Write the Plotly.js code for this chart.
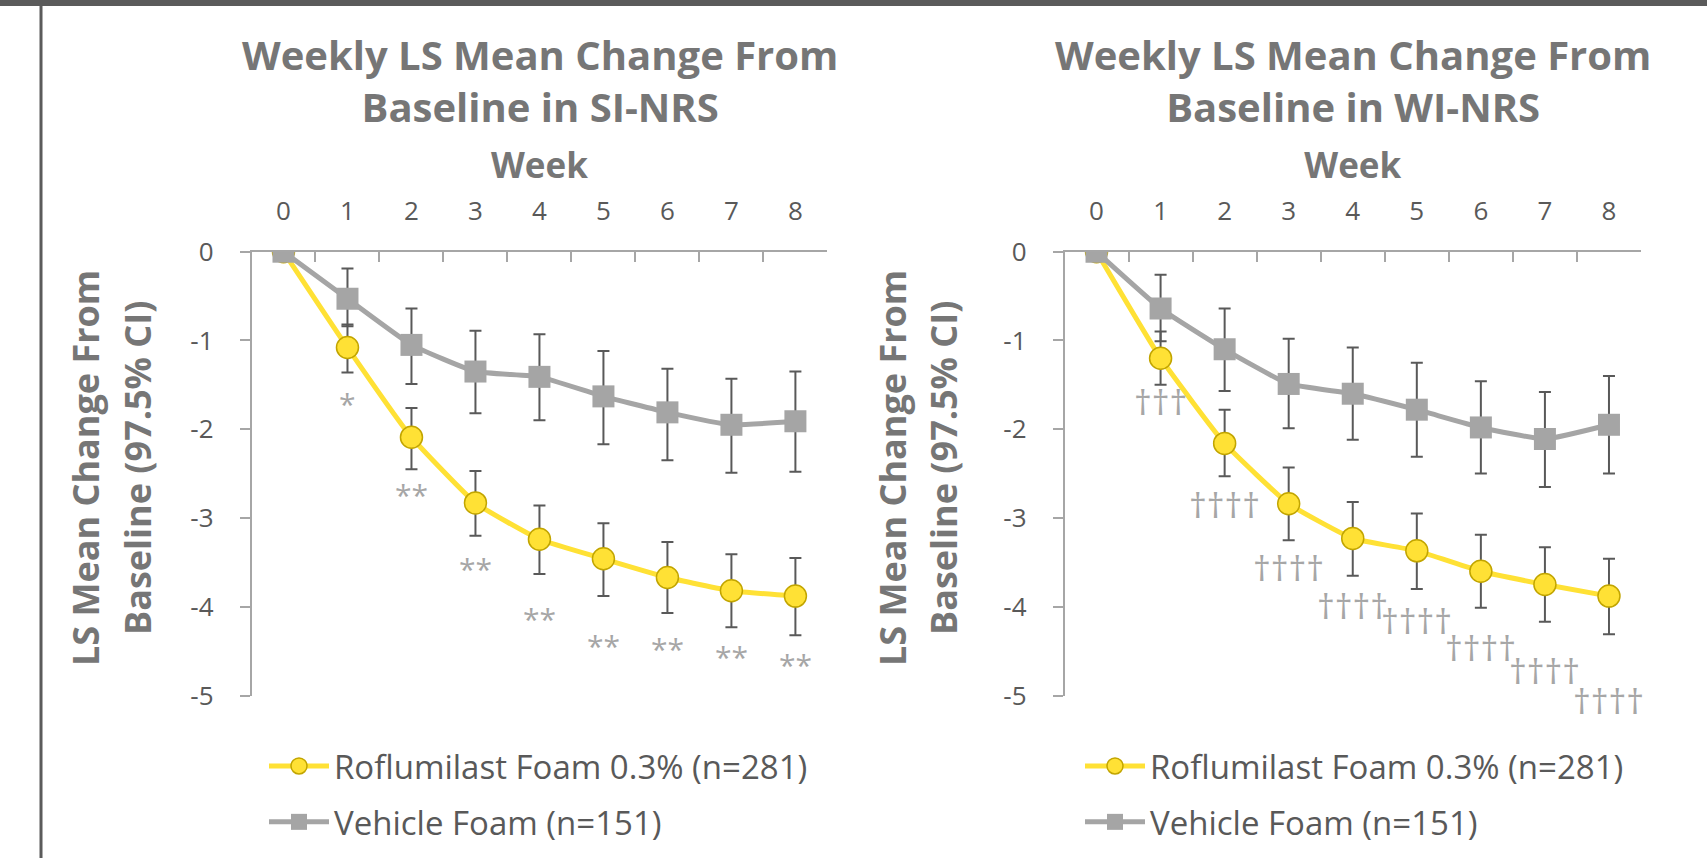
<!DOCTYPE html>
<html>
<head>
<meta charset="utf-8">
<script src="https://cdn.plot.ly/plotly-3.0.1.min.js"></script>
<style>html,body{margin:0;padding:0;background:#fff;}#chart{width:1707px;height:858px;}</style>
</head>
<body>
<div id="chart"></div>
<script>
// ---------- data ----------
const weeks = [0, 1, 2, 3, 4, 5, 6, 7, 8];
const xTickLabels = ['0', '1', '2', '3', '4', '5', '6', '7', '8'];
const yTickVals = [0, -1, -2, -3, -4, -5];
const yTickLabels = ['0', '-1', '-2', '-3', '-4', '-5'];

const seriesNames = ['Roflumilast Foam 0.3% (n=281)', 'Vehicle Foam (n=151)'];
const panelTitles = ['Weekly LS Mean Change From<br>Baseline in SI-NRS', 'Weekly LS Mean Change From<br>Baseline in WI-NRS'];
const xTitle = 'Week';
const yTitleLines = ['LS Mean Change From', 'Baseline (97.5% CI)'];

// SI-NRS
const siRofMean  = [0, -1.08, -2.09, -2.83, -3.24, -3.46, -3.67, -3.82, -3.88];
const siRofUpper = [null, -0.82, -1.76, -2.47, -2.86, -3.06, -3.27, -3.41, -3.45];
const siRofLower = [null, -1.36, -2.45, -3.20, -3.63, -3.88, -4.07, -4.23, -4.32];
const siVehMean  = [0, -0.53, -1.05, -1.35, -1.41, -1.63, -1.81, -1.95, -1.91];
const siVehUpper = [null, -0.19, -0.64, -0.89, -0.93, -1.12, -1.32, -1.43, -1.35];
const siVehLower = [null, -0.84, -1.49, -1.82, -1.90, -2.17, -2.35, -2.49, -2.48];

// WI-NRS
const wiRofMean  = [0, -1.20, -2.16, -2.84, -3.23, -3.37, -3.60, -3.75, -3.88];
const wiRofUpper = [null, -0.90, -1.78, -2.43, -2.82, -2.95, -3.19, -3.33, -3.46];
const wiRofLower = [null, -1.50, -2.53, -3.25, -3.65, -3.80, -4.01, -4.17, -4.31];
const wiVehMean  = [0, -0.64, -1.10, -1.49, -1.60, -1.78, -1.98, -2.11, -1.95];
const wiVehUpper = [null, -0.26, -0.64, -0.98, -1.08, -1.25, -1.46, -1.58, -1.40];
const wiVehLower = [null, -1.01, -1.57, -1.99, -2.12, -2.31, -2.50, -2.65, -2.50];

// significance labels (positions)
const sigWeeks = [1, 2, 3, 4, 5, 6, 7, 8];
const siSigText = ['*', '**', '**', '**', '**', '**', '**', '**'];
const siSigY = [-1.71, -2.74, -3.57, -4.13, -4.44, -4.47, -4.56, -4.65];
const wiSigText = ['\u2020\u2020\u2020', '\u2020\u2020\u2020\u2020', '\u2020\u2020\u2020\u2020', '\u2020\u2020\u2020\u2020', '\u2020\u2020\u2020\u2020', '\u2020\u2020\u2020\u2020', '\u2020\u2020\u2020\u2020', '\u2020\u2020\u2020\u2020'];
const wiSigY = [-1.69, -2.85, -3.56, -3.99, -4.16, -4.46, -4.72, -5.06];

// ---------- styles ----------
const FONT = '"Open Sans", "Liberation Sans", sans-serif';
const YELLOW = '#FFE135';
const YELLOW_EDGE = '#C2A500';
const GREY = '#A5A5A5';
const ERR = '#595959';
const AXIS = '#A6A6A6';
const TITLE_C = '#767676';
const TEXT_C = '#595959';
const SIG_C = '#A6A6A6';

const W = 1707, H = 858;
const Y_TOP_PX = 251.7, Y_BOT_PX = 695.5;
const yDom = [1 - Y_BOT_PX / H, 1 - Y_TOP_PX / H];
const Y_MIN = -5, Y_MAX = 0;
const pxPerUnit = (Y_BOT_PX - Y_TOP_PX) / (Y_MAX - Y_MIN);

function errs(mean, upper, lower) {
  const plus = mean.map((m, i) => upper[i] == null ? null : upper[i] - m);
  const minus = mean.map((m, i) => lower[i] == null ? null : m - lower[i]);
  return {type: 'data', symmetric: false, array: plus, arrayminus: minus,
          color: ERR, thickness: 2, width: 6};
}

function rofTrace(mean, up, lo, xa, ya, leg, grp) {
  return {
    x: weeks, y: mean, type: 'scatter', mode: 'lines+markers',
    name: seriesNames[0], xaxis: xa, yaxis: ya, legend: leg, legendgroup: grp,
    line: {color: YELLOW, width: 5, shape: 'spline', smoothing: 0.4},
    marker: {symbol: 'circle', size: 22, color: YELLOW, line: {color: YELLOW_EDGE, width: 1.5}},
    error_y: errs(mean, up, lo), hoverinfo: 'x+y'
  };
}
function vehTrace(mean, up, lo, xa, ya, leg, grp) {
  return {
    x: weeks, y: mean, type: 'scatter', mode: 'lines+markers',
    name: seriesNames[1], xaxis: xa, yaxis: ya, legend: leg, legendgroup: grp,
    line: {color: GREY, width: 5, shape: 'spline', smoothing: 0.4},
    marker: {symbol: 'square', size: 22, color: GREY, line: {color: GREY, width: 0}},
    error_y: errs(mean, up, lo), hoverinfo: 'x+y'
  };
}

const data = [
  rofTrace(siRofMean, siRofUpper, siRofLower, 'x', 'y', 'legend', 'a1'),
  vehTrace(siVehMean, siVehUpper, siVehLower, 'x', 'y', 'legend', 'a2'),
  rofTrace(wiRofMean, wiRofUpper, wiRofLower, 'x2', 'y2', 'legend2', 'b1'),
  vehTrace(wiVehMean, wiVehUpper, wiVehLower, 'x2', 'y2', 'legend2', 'b2')
];

function xAxis(domain, anchor) {
  return {
    domain: domain, anchor: anchor, type: 'category', side: 'top',
    range: [-0.5, 8.5], fixedrange: true,
    tickmode: 'array', tickvals: weeks, ticktext: xTickLabels,
    tickson: 'boundaries', ticks: 'inside', ticklen: 11, tickwidth: 1.5, tickcolor: AXIS,
    showline: true, linecolor: AXIS, linewidth: 1.5,
    showgrid: false, zeroline: false,
    tickfont: {family: FONT, size: 26, color: TEXT_C},
    ticklabelstandoff: 20,
    title: {text: xTitle, font: {family: FONT, size: 35, color: TITLE_C, weight: 'bold'}, standoff: 2},
    automargin: false
  };
}
function yAxis(domain, anchor) {
  return {
    domain: domain, anchor: anchor, range: [Y_MIN, Y_MAX], fixedrange: true,
    tickmode: 'array', tickvals: yTickVals, ticktext: yTickLabels,
    ticks: 'outside', ticklen: 10, tickwidth: 1.5, tickcolor: AXIS,
    showline: true, linecolor: AXIS, linewidth: 1.5,
    showgrid: false, zeroline: false,
    tickfont: {family: FONT, size: 26, color: TEXT_C},
    ticklabelstandoff: 21,
    automargin: false
  };
}

const annotations = [];
// panel titles
panelTitles.forEach((t, i) => annotations.push({
  xref: 'paper', yref: 'paper', x: (i === 0 ? 539.5 : 1352.8) / W, y: 1 - 81 / H,
  xanchor: 'center', yanchor: 'middle', text: t, showarrow: false,
  font: {family: FONT, size: 40, color: TITLE_C, weight: 'bold'}
}));
// y-axis titles (two rotated lines per panel)
[[86, 138], [893, 944]].forEach(pair => pair.forEach((px, j) => annotations.push({
  xref: 'paper', yref: 'paper', x: px / W, y: 1 - 468 / H,
  xanchor: 'center', yanchor: 'middle', textangle: -90, text: yTitleLines[j], showarrow: false,
  font: {family: FONT, size: 36, color: TITLE_C, weight: 'bold'}
})));
// significance markers
function sigAnn(xref, yref, w, y, text, size) {
  const yc = Math.max(y, Y_MIN + 0.01);
  return {xref: xref, yref: yref, x: w, y: yc, yshift: (y - yc) * pxPerUnit,
          text: text, showarrow: false, xanchor: 'center', yanchor: 'middle',
          font: {family: FONT, size: size, color: SIG_C}};
}
sigWeeks.forEach((w, i) => {
  annotations.push(sigAnn('x', 'y', w, siSigY[i], siSigText[i], 30));
  annotations.push(sigAnn('x2', 'y2', w, wiSigY[i], wiSigText[i], 35));
});

const legendBase = {
  orientation: 'v', xanchor: 'left', yanchor: 'top', y: 1 - 738 / H,
  bgcolor: 'rgba(0,0,0,0)', borderwidth: 0,
  font: {family: FONT, size: 33, color: TEXT_C},
  itemwidth: 60,
  traceorder: 'grouped', tracegroupgap: 10, itemclick: false, itemdoubleclick: false
};

const layout = {
  width: W, height: H, autosize: false,
  margin: {l: 0, r: 0, t: 0, b: 0},
  paper_bgcolor: '#ffffff', plot_bgcolor: 'rgba(0,0,0,0)',
  font: {family: FONT, color: TEXT_C},
  showlegend: true,
  xaxis: xAxis([251.5 / W, 827.4 / W], 'y'),
  yaxis: yAxis(yDom, 'x'),
  xaxis2: xAxis([1064.5 / W, 1641 / W], 'y2'),
  yaxis2: yAxis(yDom, 'x2'),
  legend: Object.assign({}, legendBase, {x: 264 / W}),
  legend2: Object.assign({}, legendBase, {x: 1080 / W}),
  annotations: annotations,
  shapes: [
    {type: 'rect', xref: 'paper', yref: 'paper', x0: 0, x1: 1, y0: 1 - 6 / H, y1: 1,
     fillcolor: '#5B5B5B', line: {width: 0}},
    {type: 'line', xref: 'paper', yref: 'paper', x0: 41 / W, x1: 41 / W, y0: 0, y1: 1 - 6 / H,
     line: {color: '#5B5B5B', width: 3}}
  ]
};

Plotly.newPlot('chart', data, layout, {displayModeBar: false, responsive: false});
</script>
</body>
</html>
